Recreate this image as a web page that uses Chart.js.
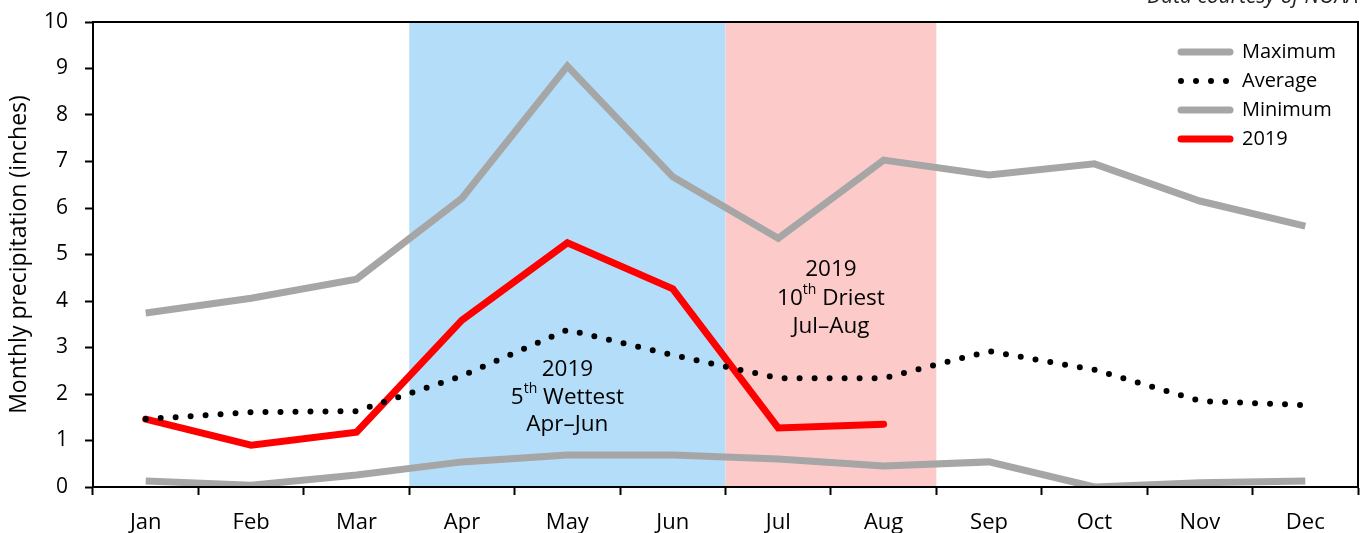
<!DOCTYPE html>
<html>
<head>
<meta charset="utf-8">
<script src="https://cdn.jsdelivr.net/npm/chart.js@4"></script>
<style>
  html, body { margin: 0; padding: 0; background: #fff; }
  #wrap { width: 1362px; height: 533px; }
</style>
</head>
<body>
<div id="wrap"><canvas id="precip" width="1362" height="533"></canvas></div>
<script>
const months = ['Jan', 'Feb', 'Mar', 'Apr', 'May', 'Jun', 'Jul', 'Aug', 'Sep', 'Oct', 'Nov', 'Dec'];
const maximum = [3.74, 4.06, 4.47, 6.21, 9.05, 6.67, 5.35, 7.03, 6.71, 6.95, 6.15, 5.61];
const average = [1.46, 1.61, 1.63, 2.39, 3.38, 2.84, 2.34, 2.34, 2.92, 2.52, 1.85, 1.76];
const minimum = [0.13, 0.04, 0.26, 0.54, 0.69, 0.69, 0.60, 0.45, 0.54, 0.0, 0.09, 0.13];
const year2019 = [1.46, 0.90, 1.18, 3.59, 5.25, 4.26, 1.27, 1.35, null, null, null, null];
const yTicks = [0, 1, 2, 3, 4, 5, 6, 7, 8, 9, 10];

const FONT = '"Open Sans", sans-serif';
const GRAY = '#a6a6a6';

// shaded periods: [first month index, last month index, colour]
const bands = [
    [3, 5, '#b3ddf8'],
    [6, 7, '#fdcaca']
];

const bandsPlugin = {
    id: 'bands',
    beforeDatasetsDraw(chart) {
        const { ctx, chartArea, scales: { x } } = chart;
        const half = (x.getPixelForValue(1) - x.getPixelForValue(0)) / 2;
        ctx.save();
        bands.forEach(function(b) {
            const x0 = x.getPixelForValue(b[0]) - half;
            const x1 = x.getPixelForValue(b[1]) + half;
            ctx.fillStyle = b[2];
            ctx.fillRect(x0, chartArea.top, x1 - x0, chartArea.bottom - chartArea.top);
        });
        ctx.restore();
    }
};

function drawSup(ctx, cx, y, parts) {
    // parts: [[text, superscript?], ...] drawn centred on cx
    const big = '22.5px ' + FONT, small = '14px ' + FONT;
    let w = 0;
    parts.forEach(function(p) { ctx.font = p[1] ? small : big; w += ctx.measureText(p[0]).width; });
    let xx = cx - w / 2;
    ctx.textAlign = 'left';
    parts.forEach(function(p) {
        ctx.font = p[1] ? small : big;
        ctx.fillText(p[0], xx, p[1] ? y - 8 : y);
        xx += ctx.measureText(p[0]).width;
    });
}

const overlayPlugin = {
    id: 'overlay',
    afterDraw(chart) {
        const { ctx, chartArea, scales: { x, y } } = chart;
        ctx.save();
        // frame
        ctx.strokeStyle = '#000';
        ctx.lineWidth = 2;
        ctx.strokeRect(chartArea.left, chartArea.top, chartArea.right - chartArea.left, chartArea.bottom - chartArea.top);

        // annotations
        ctx.fillStyle = '#000';
        ctx.textBaseline = 'middle';
        const cxWet = x.getPixelForValue(4);
        drawSup(ctx, cxWet, y.getPixelForValue(2.53), [['2019', false]]);
        drawSup(ctx, cxWet, y.getPixelForValue(1.93), [['5', false], ['th', true], [' Wettest', false]]);
        drawSup(ctx, cxWet, y.getPixelForValue(1.35), [['Apr\u2013Jun', false]]);
        const cxDry = (x.getPixelForValue(6) + x.getPixelForValue(7)) / 2;
        drawSup(ctx, cxDry, y.getPixelForValue(4.68), [['2019', false]]);
        drawSup(ctx, cxDry, y.getPixelForValue(4.06), [['10', false], ['th', true], [' Driest', false]]);
        drawSup(ctx, cxDry, y.getPixelForValue(3.44), [['Jul\u2013Aug', false]]);

        // legend
        const items = [
            ['Maximum', GRAY, null],
            ['Average', '#000', [0, 15]],
            ['Minimum', GRAY, null],
            ['2019', '#ff0000', null]
        ];
        const lx0 = chartArea.right - 180, lx1 = lx0 + 52;
        items.forEach(function(it, i) {
            const ly = chartArea.top + 30 + i * 29;
            ctx.beginPath();
            ctx.lineCap = 'round';
            ctx.strokeStyle = it[1];
            if (it[2]) { ctx.setLineDash(it[2]); ctx.lineWidth = 6; } else { ctx.setLineDash([]); ctx.lineWidth = 7; }
            ctx.moveTo(lx0 + 3, ly);
            ctx.lineTo(lx1, ly);
            ctx.stroke();
            ctx.setLineDash([]);
            ctx.font = '20px ' + FONT;
            ctx.textAlign = 'left';
            ctx.fillText(it[0], lx1 + 12, ly);
        });

        // source note
        ctx.font = 'italic 21px ' + FONT;
        ctx.textAlign = 'right';
        ctx.textBaseline = 'alphabetic';
        ctx.fillStyle = '#222';
        ctx.fillText('Data courtesy of NOAA', chartArea.right, 3);
        ctx.restore();
    }
};

const lineStyle = function(color, width) {
    return { borderColor: color, backgroundColor: color, borderWidth: width, pointRadius: 0, tension: 0, spanGaps: false };
};

const config = {
    type: 'line',
    data: {
        labels: months,
        datasets: [
            Object.assign({ label: 'Minimum', data: minimum }, lineStyle(GRAY, 7)),
            Object.assign({ label: 'Maximum', data: maximum }, lineStyle(GRAY, 7)),
            Object.assign({ label: 'Average', data: average, borderDash: [0, 15], borderCapStyle: 'round' }, lineStyle('#000', 6)),
            Object.assign({ label: '2019', data: year2019, borderCapStyle: 'round' }, lineStyle('#ff0000', 7))
        ]
    },
    options: {
        responsive: false,
        animation: false,
        layout: { padding: { top: 22, right: 4, left: 0, bottom: 0 } },
        plugins: {
            legend: { display: false },
            tooltip: { enabled: false }
        },
        scales: {
            x: {
                offset: true,
                grid: { offset: true, drawOnChartArea: false, tickLength: 8, tickWidth: 2, tickColor: '#000' },
                border: { color: '#000', width: 2 },
                ticks: { color: '#000', font: { family: FONT, size: 22 }, padding: 15, maxRotation: 0 },
                afterFit: function(s) { s.height = 46; }
            },
            y: {
                min: 0,
                max: 10,
                afterBuildTicks: function(s) { s.ticks = yTicks.map(function(v) { return { value: v }; }); },
                grid: { drawOnChartArea: false, tickLength: 8, tickWidth: 2, tickColor: '#000' },
                border: { color: '#000', width: 2 },
                ticks: { color: '#000', font: { family: FONT, size: 21 }, padding: 17 },
                title: {
                    display: true,
                    text: 'Monthly precipitation (inches)',
                    color: '#000',
                    font: { family: FONT, size: 23 },
                    padding: { top: 6, bottom: 0 }
                },
                afterFit: function(s) {
                    s.width = 93;
                    s.paddingTop = 0;
                    s.paddingBottom = 0;
                }
            }
        }
    },
    plugins: [bandsPlugin, overlayPlugin]
};

const precipChart = new Chart(document.getElementById('precip').getContext('2d'), config);
</script>
</body>
</html>
